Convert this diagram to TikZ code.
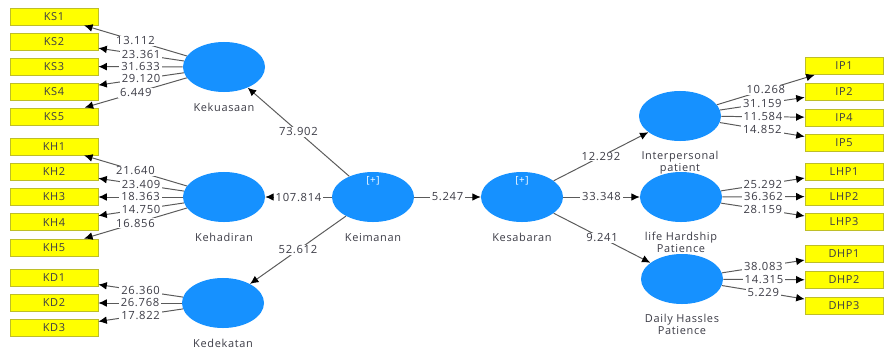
\documentclass[tikz,border=0pt]{standalone}
\usepackage{fontspec}
\setmainfont[LetterSpace=6]{Open Sans}
\usepackage{tikz}
\usetikzlibrary{shapes.geometric}
\usetikzlibrary{arrows.meta}
\usetikzlibrary{positioning}

\definecolor{lvblue}{RGB}{22,145,255}
\definecolor{mvyellow}{RGB}{255,255,0}
\definecolor{mvborder}{RGB}{190,190,40}
\definecolor{pathgray}{RGB}{90,90,90}
\definecolor{txtgray}{RGB}{60,60,70}

\begin{document}
\begin{tikzpicture}[x=0.025cm, y=-0.025cm]

\def\lvw{2.05cm}
\def\lvh{1.25cm}
\def\mvh{0.43cm}
\def\mvwl{2.2cm}
\def\mvwr{1.95cm}
\def\xl{54}
\def\xr{844}

\tikzset{lv/.style={ellipse, fill=lvblue, draw=none, minimum width=\lvw, minimum height=\lvh, inner sep=0pt}}
\tikzset{mvl/.style={rectangle, fill=mvyellow, draw=mvborder, line width=0.5pt, minimum width=\mvwl, minimum height=\mvh, inner sep=0pt, font=\fontsize{7.8}{8}\selectfont, text=txtgray}}
\tikzset{mvr/.style={mvl, minimum width=\mvwr}}
\tikzset{lvtxt/.style={font=\fontsize{7.8}{7.4}\selectfont, text=txtgray, align=center, inner sep=0pt}}
\tikzset{plus/.style={font=\fontsize{7}{7}\selectfont, text=white, inner sep=0pt}}
\tikzset{lbl/.style={fill=white, inner xsep=1.4pt, inner ysep=0.6pt, font=\fontsize{8}{8}\selectfont, text=txtgray}}
\tikzset{pth/.style={draw=pathgray, line width=0.7pt, -{Latex[length=6pt,width=5.5pt,black]}}}

\useasboundingbox (0,0) rectangle (885,348);

%latent variables
\node[lv] (kua) at (224, 67) {};
\node[lv] (had) at (224,197) {};
\node[lv] (dek) at (223,303) {};
\node[lv] (ima) at (373,197) {};
\node[lv] (sab) at (522,197) {};
\node[lv] (ip)  at (680,116) {};
\node[lv] (lhp) at (681,197) {};
\node[lv] (dhp) at (682,279) {};

\node[plus] (imaplus) at (373,181) {[+]};
\node[plus] (sabplus) at (522,181) {[+]};

\node[lvtxt, below=7.5pt of kua] (kuatxt) {Kekuasaan};
\node[lvtxt, below=7.5pt of had] (hadtxt) {Kehadiran};
\node[lvtxt, below=7.5pt of dek] (dektxt) {Kedekatan};
\node[lvtxt, below=7.5pt of ima] (imatxt) {Keimanan};
\node[lvtxt, below=7.5pt of sab] (sabtxt) {Kesabaran};
\node[lvtxt, below=7pt of ip]  (iptxt)  {Interpersonal\\patient};
\node[lvtxt, below=7pt of lhp] (lhptxt) {life Hardship\\Patience};
\node[lvtxt, below=7pt of dhp] (dhptxt) {Daily Hassles\\Patience};

%indicators left
\node[mvl] (ks1) at (\xl, 16.5) {KS1};
\node[mvl] (ks2) at (\xl, 41.5) {KS2};
\node[mvl] (ks3) at (\xl, 66.5) {KS3};
\node[mvl] (ks4) at (\xl, 91.5) {KS4};
\node[mvl] (ks5) at (\xl,116.5) {KS5};

\node[mvl] (kh1) at (\xl,146.5) {KH1};
\node[mvl] (kh2) at (\xl,171.8) {KH2};
\node[mvl] (kh3) at (\xl,197.0) {KH3};
\node[mvl] (kh4) at (\xl,222.2) {KH4};
\node[mvl] (kh5) at (\xl,247.5) {KH5};

\node[mvl] (kd1) at (\xl,278) {KD1};
\node[mvl] (kd2) at (\xl,303) {KD2};
\node[mvl] (kd3) at (\xl,328) {KD3};

%indicators right
\node[mvr] (ip1) at (\xr, 66.0) {IP1};
\node[mvr] (ip2) at (\xr, 91.5) {IP2};
\node[mvr] (ip4) at (\xr,117.5) {IP4};
\node[mvr] (ip5) at (\xr,143.0) {IP5};

\node[mvr] (lhp1) at (\xr,172.0) {LHP1};
\node[mvr] (lhp2) at (\xr,196.5) {LHP2};
\node[mvr] (lhp3) at (\xr,222.0) {LHP3};

\node[mvr] (dhp1) at (\xr,254.0) {DHP1};
\node[mvr] (dhp2) at (\xr,280.0) {DHP2};
\node[mvr] (dhp3) at (\xr,305.5) {DHP3};

%outer loadings Kekuasaan
\draw[pth] (kua) -- node[lbl] {13.112} (ks1);
\draw[pth] (kua) -- node[lbl] {23.361} (ks2);
\draw[pth] (kua) -- node[lbl] {31.633} (ks3);
\draw[pth] (kua) -- node[lbl] {29.120} (ks4);
\draw[pth] (kua) -- node[lbl] {6.449}  (ks5);

%outer loadings Kehadiran
\draw[pth] (had) -- node[lbl] {21.640} (kh1);
\draw[pth] (had) -- node[lbl] {23.409} (kh2);
\draw[pth] (had) -- node[lbl] {18.363} (kh3);
\draw[pth] (had) -- node[lbl] {14.750} (kh4);
\draw[pth] (had) -- node[lbl] {16.856} (kh5);

%outer loadings Kedekatan
\draw[pth] (dek) -- node[lbl] {26.360} (kd1);
\draw[pth] (dek) -- node[lbl] {26.768} (kd2);
\draw[pth] (dek) -- node[lbl] {17.822} (kd3);

%outer loadings Interpersonal patient
\draw[pth] (ip) -- node[lbl] {10.268} (ip1);
\draw[pth] (ip) -- node[lbl] {31.159} (ip2);
\draw[pth] (ip) -- node[lbl] {11.584} (ip4);
\draw[pth] (ip) -- node[lbl] {14.852} (ip5);

%outer loadings life Hardship Patience
\draw[pth] (lhp) -- node[lbl] {25.292} (lhp1);
\draw[pth] (lhp) -- node[lbl] {36.362} (lhp2);
\draw[pth] (lhp) -- node[lbl] {28.159} (lhp3);

%outer loadings Daily Hassles Patience
\draw[pth] (dhp) -- node[lbl] {38.083} (dhp1);
\draw[pth] (dhp) -- node[lbl] {14.315} (dhp2);
\draw[pth] (dhp) -- node[lbl] {5.229}  (dhp3);

%inner paths
\draw[pth] (ima) -- node[lbl] {73.902}  (kua);
\draw[pth] (ima) -- node[lbl] {107.814} (had);
\draw[pth] (ima) -- node[lbl] {52.612}  (dek);
\draw[pth] (ima) -- node[lbl] {5.247}   (sab);

\draw[pth] (sab) -- node[lbl] {12.292} (ip);
\draw[pth] (sab) -- node[lbl] {33.348} (lhp);
\draw[pth] (sab) -- node[lbl] {9.241}  (dhp);

\end{tikzpicture}
\end{document}
